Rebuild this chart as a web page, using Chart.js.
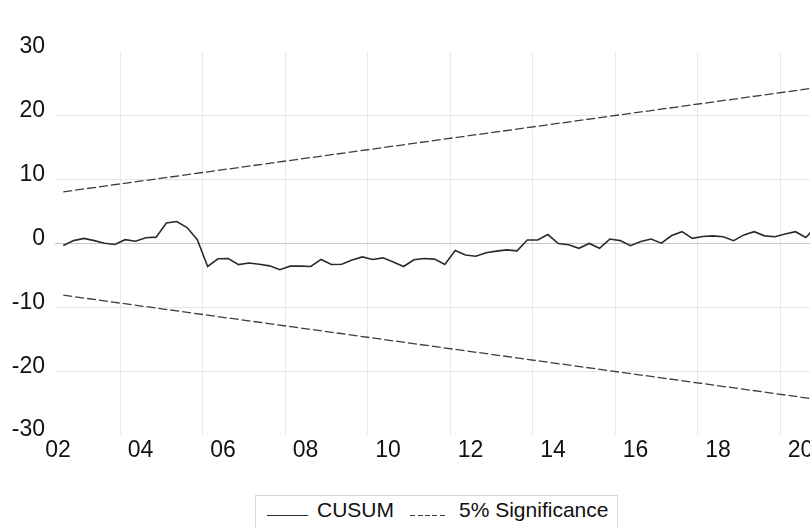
<!DOCTYPE html>
<html>
<head>
<meta charset="utf-8">
<title>CUSUM test</title>
<script src="https://cdn.jsdelivr.net/npm/chart.js@4.4.1/dist/chart.umd.min.js"></script>
<style>
  html, body { margin: 0; padding: 0; background: #fff; width: 810px; height: 528px; overflow: hidden; }
  #wrap { position: absolute; left: 0; top: 0; width: 864px; height: 528px; }
  #legend {
    position: absolute; left: 255px; top: 495px; width: 363px; height: 44px;
    box-sizing: border-box; border: 1px solid #d6d6d6; background: #fff;
    padding: 2px 0 0 11px; white-space: nowrap;
    font: 21px "Liberation Sans", Arial, sans-serif; line-height: 24px; color: #111;
  }
  .sample { display: inline-block; height: 1px; vertical-align: baseline; margin-bottom: 1px; }
</style>
</head>
<body>
<div id="wrap"><canvas id="c" width="864" height="528"></canvas></div>
<div id="legend"></div>
<script>
// Quarterly CUSUM statistic, 2002Q3 onwards
const firstYear = 2002;
const firstQuarter = 3;
const cusum = [
  -0.3, 0.45, 0.8, 0.45, 0.05, -0.15, 0.6, 0.35, 0.9, 1.0,
  3.2, 3.45, 2.5, 0.6, -3.6, -2.4, -2.35, -3.3, -3.05, -3.25,
  -3.5, -4.1, -3.55, -3.55, -3.6, -2.5, -3.3, -3.25, -2.6, -2.1,
  -2.5, -2.25, -2.9, -3.6, -2.55, -2.35, -2.45, -3.3, -1.1, -1.8,
  -2.0, -1.45, -1.2, -1.0, -1.15, 0.55, 0.55, 1.4, 0.0, -0.2,
  -0.75, 0.0, -0.75, 0.7, 0.45, -0.35, 0.33, 0.7, 0.05, 1.25,
  1.85, 0.8, 1.1, 1.2, 1.05, 0.45, 1.35, 1.85, 1.2, 1.05,
  1.5, 1.85, 0.95, 2.6
];
// 5% significance bounds at the first and last observation
const upperBound = [8.1, 24.4];
const lowerBound = [-8.1, -24.4];

const xTickYears = [2002, 2004, 2006, 2008, 2010, 2012, 2014, 2016, 2018, 2020];
const xTickLabels = ['02', '04', '06', '08', '10', '12', '14', '16', '18', '20'];
const yTickValues = [-30, -20, -10, 0, 10, 20, 30];

const seriesNames = ['CUSUM', '5% Significance'];

// Each quarter sits at the middle of its span on the time axis
const quarterX = cusum.map((_, i) => {
  const q = firstQuarter - 1 + i;
  return firstYear + Math.floor(q / 4) + ((q % 4) + 0.5) / 4;
});
const lastX = quarterX[quarterX.length - 1];

const tickFont = { family: '"Liberation Sans", Arial, sans-serif', size: 23 };
const lineColor = '#2b2b2b';
const boundColor = '#3d3d3d';

const chart = new Chart(document.getElementById('c'), {
  type: 'line',
  data: {
    datasets: [
      {
        label: seriesNames[0],
        data: cusum.map((v, i) => ({ x: quarterX[i], y: v })),
        borderColor: lineColor, borderWidth: 1.6, pointRadius: 0, tension: 0,
        legendDash: []
      },
      {
        label: seriesNames[1],
        data: [{ x: quarterX[0], y: upperBound[0] }, { x: lastX, y: upperBound[1] }],
        borderColor: boundColor, borderWidth: 1.3, borderDash: [9, 3], pointRadius: 0,
        legendDash: [5, 2.5]
      },
      {
        label: seriesNames[1],
        data: [{ x: quarterX[0], y: lowerBound[0] }, { x: lastX, y: lowerBound[1] }],
        borderColor: boundColor, borderWidth: 1.3, borderDash: [9, 3], pointRadius: 0,
        legendDash: [5, 2.5]
      }
    ]
  },
  options: {
    responsive: false,
    animation: false,
    devicePixelRatio: 1,
    layout: { padding: { top: 52, right: 24, bottom: 53, left: 0 } },
    plugins: { legend: { display: false }, tooltip: { enabled: false } },
    scales: {
      x: {
        type: 'linear',
        min: 2002.4242,
        max: 2021.4545,
        afterBuildTicks: (s) => { s.ticks = xTickYears.map(v => ({ value: v })); },
        afterFit: (s) => { s.height = 40; },
        border: { display: false },
        grid: {
          drawTicks: false,
          lineWidth: 1,
          color: (ctx) => (ctx.tick && ctx.tick.value < 2003) ? 'rgba(0,0,0,0)' : '#e9e9e9'
        },
        ticks: {
          autoSkip: false, maxRotation: 0, padding: 2, labelOffset: 20.6,
          color: '#111', font: tickFont,
          callback: (v, i) => xTickLabels[i]
        }
      },
      y: {
        min: yTickValues[0],
        max: yTickValues[yTickValues.length - 1],
        afterBuildTicks: (s) => { s.ticks = yTickValues.map(v => ({ value: v })); },
        afterFit: (s) => { s.width = 55; },
        border: { display: false },
        grid: {
          drawTicks: false,
          lineWidth: 1,
          color: (ctx) => {
            const v = ctx.tick ? ctx.tick.value : null;
            if (v === 0) return '#c6c6c6';
            if (Math.abs(v) === 30) return 'rgba(0,0,0,0)';
            return '#e6e6e6';
          }
        },
        ticks: { padding: 10, labelOffset: -5, color: '#111', font: tickFont }
      }
    }
  }
});

// Legend: one entry per distinct series name, with its line sample
(function buildLegend() {
  const box = document.getElementById('legend');
  const seen = new Set();
  const widths = [41, 36];
  const gapsBefore = [0, 16];
  chart.data.datasets.forEach(ds => {
    if (seen.has(ds.label)) return;
    const k = seen.size;
    seen.add(ds.label);
    const s = document.createElement('span');
    s.className = 'sample';
    s.style.width = widths[k] + 'px';
    s.style.marginLeft = gapsBefore[k] + 'px';
    if (ds.legendDash.length) {
      const [d, g] = ds.legendDash;
      s.style.background = `repeating-linear-gradient(to right, ${ds.borderColor} 0 ${d}px, transparent ${d}px ${d + g}px)`;
    } else {
      s.style.background = ds.borderColor;
    }
    const t = document.createElement('span');
    t.textContent = ds.label;
    t.style.marginLeft = (k === 0 ? 9 : 13) + 'px';
    box.appendChild(s);
    box.appendChild(t);
  });
})();
</script>
</body>
</html>
